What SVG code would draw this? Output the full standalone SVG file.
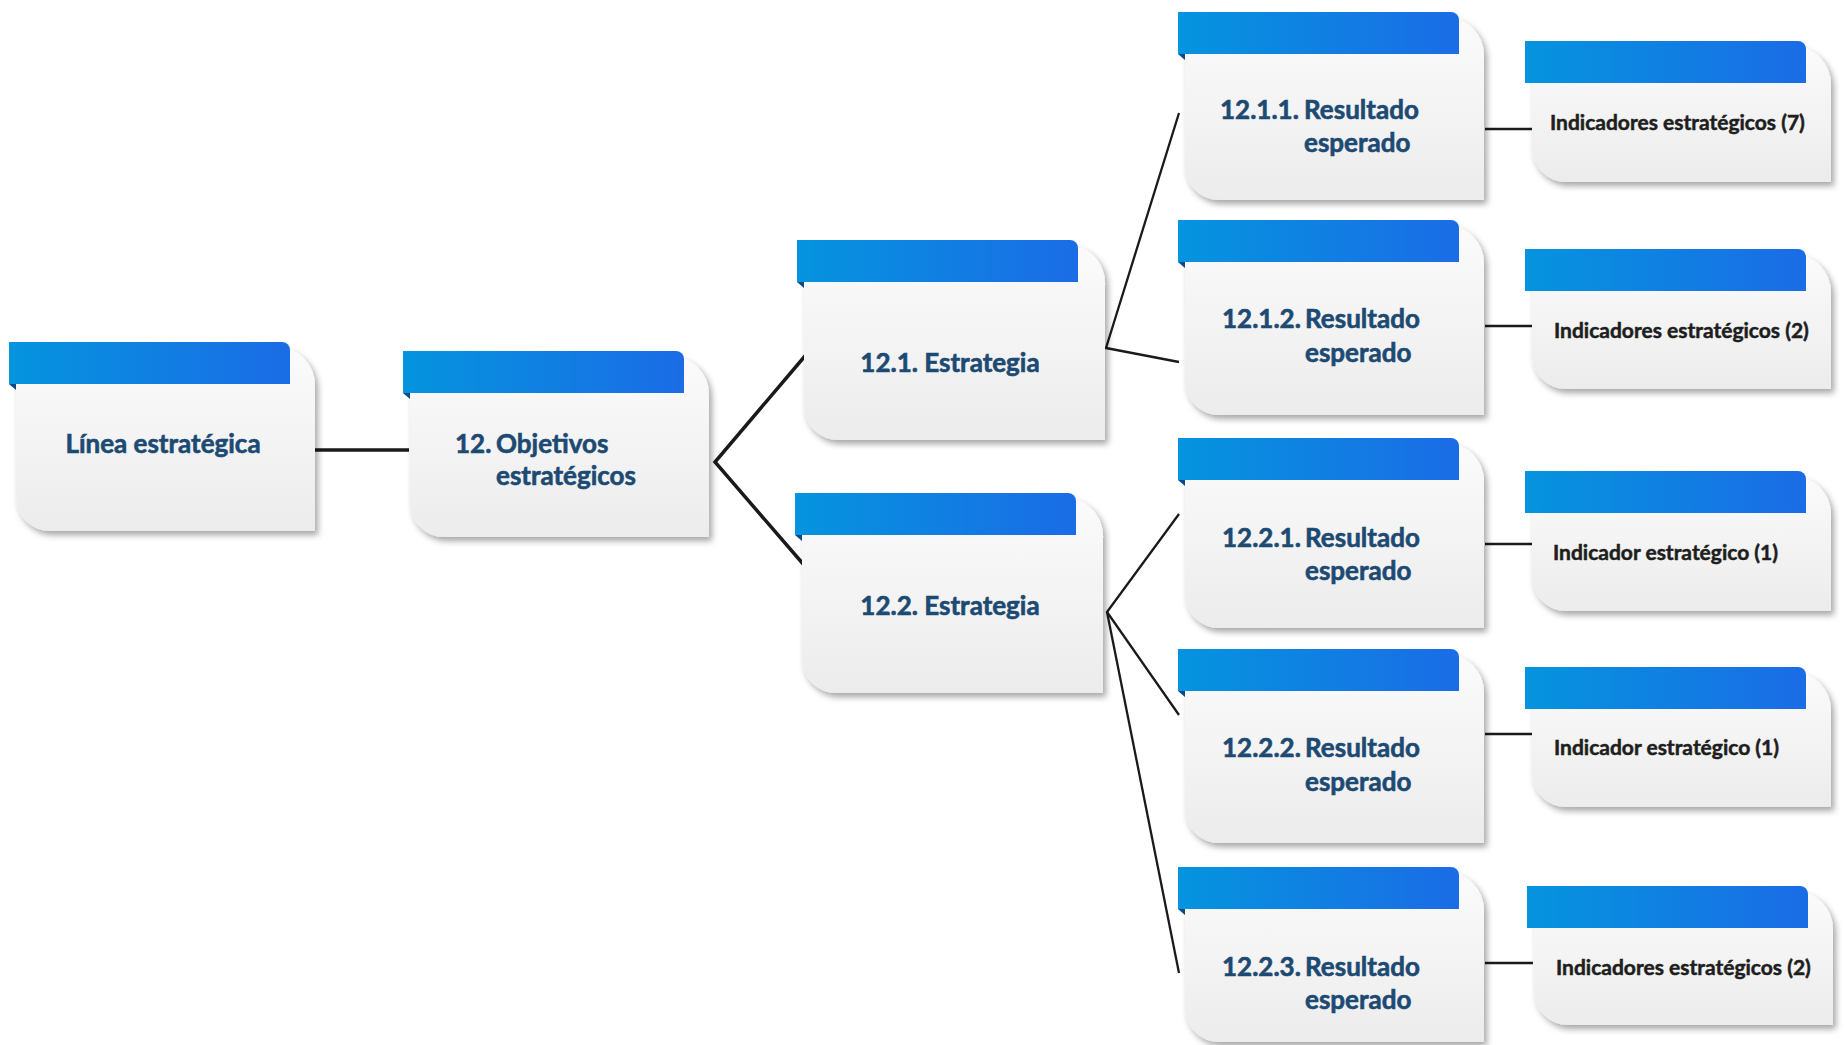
<svg xmlns="http://www.w3.org/2000/svg" width="1845" height="1045" viewBox="0 0 1845 1045">
<style>
.body{fill:url(#gBody);filter:url(#sh)}
.band{fill:url(#gBand)}
.fold{fill:#0b4a86}
.t{font-family:Lato,"Open Sans","Liberation Sans",sans-serif;font-weight:700;font-size:26px;fill:#1d4a72;stroke:#1d4a72;stroke-width:0.6}
.c{text-anchor:middle}
.ti{font-family:Lato,"Open Sans","Liberation Sans",sans-serif;font-weight:700;font-size:21px;fill:#1e1e1e;stroke:#1e1e1e;stroke-width:0.5}
.ln{fill:none;stroke:#1a1a1a;stroke-linejoin:miter}
.w3{stroke-width:3.5}
.w2{stroke-width:2.3}
</style>
<defs>
<linearGradient id="gBand" x1="0" y1="0" x2="1" y2="0">
<stop offset="0" stop-color="#0594de"/>
<stop offset="1" stop-color="#1b6ce6"/>
</linearGradient>
<linearGradient id="gBody" x1="0" y1="0" x2="0" y2="1">
<stop offset="0" stop-color="#fbfbfb"/>
<stop offset="1" stop-color="#ececed"/>
</linearGradient>
<filter id="sh" x="-10%" y="-10%" width="125%" height="130%">
<feDropShadow dx="3" dy="4" stdDeviation="3" flood-color="#000" flood-opacity="0.35"/>
</filter>
</defs>
<rect width="1845" height="1045" fill="#ffffff"/>
<g id="connectors">
<path class="ln w3" d="M315,450 H409"/>
<path class="ln w3" d="M805,356 L715,462 L804,565"/>
<path class="ln w2" d="M1179,113 L1106,348 L1179,362"/>
<path class="ln w2" d="M1179,514 L1107,612 L1179,715"/>
<path class="ln w2" d="M1107,612 L1179,973"/>
<path class="ln w2" d="M1485,129 H1533"/>
<path class="ln w2" d="M1485,326 H1533"/>
<path class="ln w2" d="M1485,544 H1533"/>
<path class="ln w2" d="M1485,734 H1533"/>
<path class="ln w2" d="M1485,963 H1533"/>
</g>
<g id="n-linea" transform="translate(9,342)">
<path class="body" d="M7,5 H268 A38,38 0 0 1 306,43 V189 H41 A34,34 0 0 1 7,155 Z"/>
<path class="band" d="M0,0 H273 A8,8 0 0 1 281,8 V42 H0 Z"/>
<path class="fold" d="M0,42 L7,42 L7,48 Z"/>
<text class="t c" x="154" y="111">Línea estratégica</text>
</g>
<g id="n-obj" transform="translate(403,351)">
<path class="body" d="M7,5 H268 A38,38 0 0 1 306,43 V186 H41 A34,34 0 0 1 7,152 Z"/>
<path class="band" d="M0,0 H273 A8,8 0 0 1 281,8 V42 H0 Z"/>
<path class="fold" d="M0,42 L7,42 L7,48 Z"/>
<text class="t" x="52" y="102">12.</text>
<text class="t" x="93" y="102">Objetivos</text>
<text class="t" x="93" y="134">estratégicos</text>
</g>
<g id="n-12-1" transform="translate(797,240)">
<path class="body" d="M7,5 H268 A38,38 0 0 1 308,45 V200 H41 A34,34 0 0 1 7,166 Z"/>
<path class="band" d="M0,0 H273 A8,8 0 0 1 281,8 V42 H0 Z"/>
<path class="fold" d="M0,42 L7,42 L7,48 Z"/>
<text class="t c" x="153" y="132">12.1. Estrategia</text>
</g>
<g id="n-12-2" transform="translate(795,493)">
<path class="body" d="M7,5 H268 A38,38 0 0 1 308,45 V200 H41 A34,34 0 0 1 7,166 Z"/>
<path class="band" d="M0,0 H273 A8,8 0 0 1 281,8 V42 H0 Z"/>
<path class="fold" d="M0,42 L7,42 L7,48 Z"/>
<text class="t c" x="155" y="122">12.2. Estrategia</text>
</g>
<g id="n-12-1-1" transform="translate(1178,12)">
<path class="body" d="M7,5 H268 A38,38 0 0 1 306,43 V188 H41 A34,34 0 0 1 7,154 Z"/>
<path class="band" d="M0,0 H273 A8,8 0 0 1 281,8 V42 H0 Z"/>
<path class="fold" d="M0,42 L7,42 L7,48 Z"/>
<text class="t" x="42" y="107">12.1.1.</text>
<text class="t" x="126" y="107">Resultado</text>
<text class="t" x="126" y="140">esperado</text>
</g>
<g id="n-12-1-2" transform="translate(1178,220)">
<path class="body" d="M7,5 H268 A38,38 0 0 1 306,43 V195 H41 A34,34 0 0 1 7,161 Z"/>
<path class="band" d="M0,0 H273 A8,8 0 0 1 281,8 V42 H0 Z"/>
<path class="fold" d="M0,42 L7,42 L7,48 Z"/>
<text class="t" x="44" y="108">12.1.2.</text>
<text class="t" x="127" y="108">Resultado</text>
<text class="t" x="127" y="142">esperado</text>
</g>
<g id="n-12-2-1" transform="translate(1178,438)">
<path class="body" d="M7,5 H268 A38,38 0 0 1 306,43 V190 H41 A34,34 0 0 1 7,156 Z"/>
<path class="band" d="M0,0 H273 A8,8 0 0 1 281,8 V42 H0 Z"/>
<path class="fold" d="M0,42 L7,42 L7,48 Z"/>
<text class="t" x="44" y="109">12.2.1.</text>
<text class="t" x="127" y="109">Resultado</text>
<text class="t" x="127" y="142">esperado</text>
</g>
<g id="n-12-2-2" transform="translate(1178,649)">
<path class="body" d="M7,5 H268 A38,38 0 0 1 306,43 V194 H41 A34,34 0 0 1 7,160 Z"/>
<path class="band" d="M0,0 H273 A8,8 0 0 1 281,8 V42 H0 Z"/>
<path class="fold" d="M0,42 L7,42 L7,48 Z"/>
<text class="t" x="44" y="108">12.2.2.</text>
<text class="t" x="127" y="108">Resultado</text>
<text class="t" x="127" y="142">esperado</text>
</g>
<g id="n-12-2-3" transform="translate(1178,867)">
<path class="body" d="M7,5 H268 A38,38 0 0 1 306,43 V175 H41 A34,34 0 0 1 7,141 Z"/>
<path class="band" d="M0,0 H273 A8,8 0 0 1 281,8 V42 H0 Z"/>
<path class="fold" d="M0,42 L7,42 L7,48 Z"/>
<text class="t" x="44" y="109">12.2.3.</text>
<text class="t" x="127" y="109">Resultado</text>
<text class="t" x="127" y="142">esperado</text>
</g>
<g id="n-ind-1" transform="translate(1525,41)">
<path class="body" d="M7,5 H268 A38,38 0 0 1 306,43 V141 H41 A34,34 0 0 1 7,107 Z"/>
<path class="band" d="M0,0 H273 A8,8 0 0 1 281,8 V42 H0 Z"/>
<text class="ti" x="25" y="89">Indicadores estratégicos (7)</text>
</g>
<g id="n-ind-2" transform="translate(1525,249)">
<path class="body" d="M7,5 H268 A38,38 0 0 1 306,43 V140 H41 A34,34 0 0 1 7,106 Z"/>
<path class="band" d="M0,0 H273 A8,8 0 0 1 281,8 V42 H0 Z"/>
<text class="ti" x="29" y="89">Indicadores estratégicos (2)</text>
</g>
<g id="n-ind-3" transform="translate(1525,471)">
<path class="body" d="M7,5 H268 A38,38 0 0 1 306,43 V140 H41 A34,34 0 0 1 7,106 Z"/>
<path class="band" d="M0,0 H273 A8,8 0 0 1 281,8 V42 H0 Z"/>
<text class="ti" x="28" y="89">Indicador estratégico (1)</text>
</g>
<g id="n-ind-4" transform="translate(1525,667)">
<path class="body" d="M7,5 H268 A38,38 0 0 1 306,43 V140 H41 A34,34 0 0 1 7,106 Z"/>
<path class="band" d="M0,0 H273 A8,8 0 0 1 281,8 V42 H0 Z"/>
<text class="ti" x="29" y="88">Indicador estratégico (1)</text>
</g>
<g id="n-ind-5" transform="translate(1527,886)">
<path class="body" d="M7,5 H268 A38,38 0 0 1 306,43 V139 H41 A34,34 0 0 1 7,105 Z"/>
<path class="band" d="M0,0 H273 A8,8 0 0 1 281,8 V42 H0 Z"/>
<text class="ti" x="29" y="89">Indicadores estratégicos (2)</text>
</g>
</svg>
